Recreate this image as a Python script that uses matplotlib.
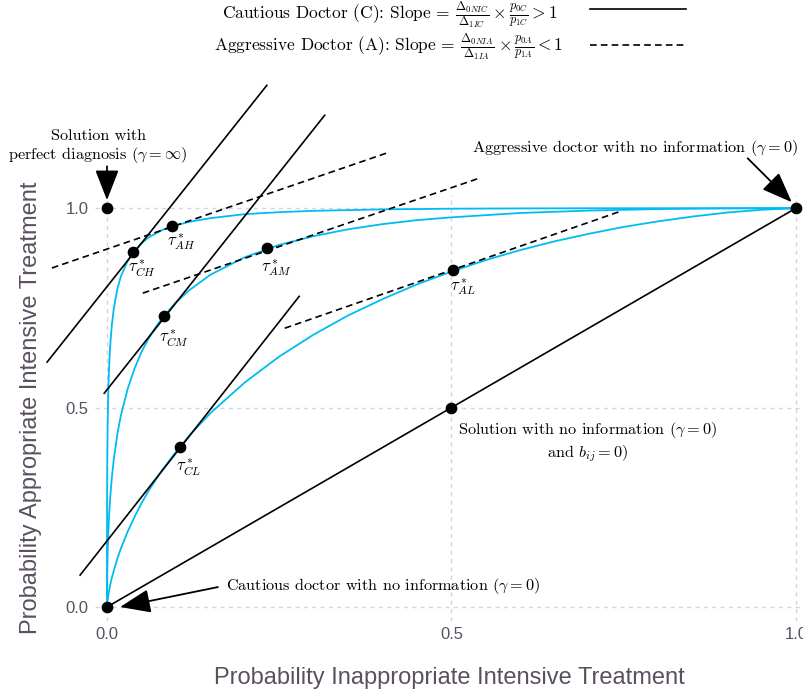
import matplotlib
matplotlib.use("Agg")
import matplotlib.pyplot as plt
from matplotlib.lines import Line2D

plt.rcParams['mathtext.fontset'] = 'cm'
plt.rcParams['axes.unicode_minus'] = False

# ROC curves (false positive rate, true positive rate) for three information levels
fpr_high = [0, 0.000001, 0.000003, 0.00001, 0.00003, 0.0001, 0.0002, 0.0005, 0.001, 0.002,
            0.003, 0.004, 0.005, 0.007, 0.01, 0.015, 0.02, 0.03, 0.04, 0.05, 0.06, 0.07, 0.08,
            0.1, 0.12, 0.15, 0.2, 0.25, 0.3, 0.4, 0.5, 0.6, 0.7, 0.8, 0.9, 1.0]
tpr_high = [0, 0.040, 0.064, 0.103, 0.156, 0.236, 0.295, 0.386, 0.464, 0.549,
            0.600, 0.636, 0.664, 0.706, 0.750, 0.797, 0.828, 0.868, 0.894, 0.912, 0.926, 0.936, 0.945,
            0.957, 0.966, 0.975, 0.985, 0.990, 0.9934, 0.9970, 0.9987, 0.9994, 0.9998, 0.99994, 0.99999, 1.0]

fpr_med = [0, 0.000001, 0.00001, 0.00003, 0.0001, 0.0002, 0.0005, 0.001, 0.002, 0.003, 0.004,
           0.005, 0.007, 0.01, 0.015, 0.02, 0.03, 0.04, 0.05, 0.06, 0.07, 0.08, 0.1, 0.12, 0.15,
           0.2, 0.25, 0.3, 0.35, 0.4, 0.45, 0.5, 0.6, 0.7, 0.8, 0.9, 1.0]
tpr_med = [0, 0.003, 0.012, 0.022, 0.043, 0.062, 0.098, 0.138, 0.190, 0.227, 0.257,
           0.282, 0.324, 0.372, 0.433, 0.479, 0.547, 0.598, 0.639, 0.672, 0.700, 0.724, 0.764, 0.795, 0.833,
           0.877, 0.908, 0.930, 0.947, 0.960, 0.970, 0.977, 0.988, 0.994, 0.9978, 0.9995, 1.0]

fpr_low = [0, 0.0001, 0.0003, 0.001, 0.002, 0.003, 0.005, 0.007, 0.01, 0.015, 0.02, 0.03, 0.04,
           0.05, 0.06, 0.07, 0.08, 0.1, 0.12, 0.15, 0.2, 0.25, 0.3, 0.35, 0.4, 0.45, 0.5, 0.55,
           0.6, 0.65, 0.7, 0.75, 0.8, 0.85, 0.9, 0.95, 1.0]
tpr_low = [0, 0.003, 0.0075, 0.018, 0.030, 0.040, 0.058, 0.073, 0.092, 0.121, 0.146, 0.189, 0.226,
           0.260, 0.290, 0.317, 0.343, 0.389, 0.431, 0.486, 0.563, 0.628, 0.683, 0.731, 0.772, 0.809,
           0.841, 0.870, 0.895, 0.917, 0.936, 0.953, 0.967, 0.979, 0.989, 0.996, 1.0]

# optimal thresholds
tau_names = [r'$\tau^*_{CH}$', r'$\tau^*_{AH}$', r'$\tau^*_{CM}$',
             r'$\tau^*_{AM}$', r'$\tau^*_{CL}$', r'$\tau^*_{AL}$']
tau_x = [0.038, 0.094, 0.083, 0.232, 0.106, 0.502]
tau_y = [0.890, 0.955, 0.730, 0.900, 0.401, 0.845]
tau_lab_x = [0.051, 0.107, 0.097, 0.245, 0.118, 0.517]
tau_lab_y = [0.850, 0.915, 0.674, 0.850, 0.351, 0.800]

# corner / no-information solutions
corner_x = [0.0, 1.0, 0.5, 0.0]
corner_y = [1.0, 1.0, 0.5, 0.0]

# iso-cost lines (x0, y0, x1, y1)
cautious_lines = [(-0.087, 0.614, 0.232, 1.308),
                  (-0.004, 0.536, 0.316, 1.233),
                  (-0.039, 0.080, 0.279, 0.779)]
aggressive_lines = [(-0.080, 0.850, 0.409, 1.140),
                    (0.052, 0.787, 0.540, 1.075),
                    (0.258, 0.699, 0.745, 0.992)]
chance_x = [0.0, 1.0]
chance_y = [0.0, 1.0]

txt_col = '#5a5060'
grid_col = '#d4d2e6'
curve_col = '#00bcf2'
serif = 'cmr10'

fig = plt.figure(figsize=(8.04, 6.96), dpi=100)
ax = fig.add_axes([0.1185, 0.1078, 0.880, 0.612])
ax.set_xlim(-0.017, 1.01)
ax.set_ylim(-0.035, 1.033)
for s in ax.spines.values():
    s.set_visible(False)
ax.set_xticks([0.0, 0.5, 1.0])
ax.set_yticks([0.0, 0.5, 1.0])
ax.set_xticklabels(['0.0', '0.5', '1.0'])
ax.set_yticklabels(['0.0', '0.5', '1.0'])
ax.tick_params(length=0, labelsize=12, labelcolor=txt_col)
ax.tick_params(axis='x', pad=4)
ax.tick_params(axis='y', pad=5)
for lab in ax.get_xticklabels() + ax.get_yticklabels():
    lab.set_fontfamily('Liberation Sans')
ax.grid(True, color=grid_col, linestyle=(0, (3, 3)), linewidth=1.0)
ax.set_axisbelow(True)

ax.set_xlabel('Probability Inappropriate Intensive Treatment', fontsize=17,
              color=txt_col, family='Liberation Sans', labelpad=18)
ax.set_ylabel('Probability Appropriate Intensive Treatment', fontsize=17,
              color=txt_col, family='Liberation Sans', labelpad=17)

for fx, fy in [(fpr_high, tpr_high), (fpr_med, tpr_med), (fpr_low, tpr_low)]:
    ax.plot(fx, fy, color=curve_col, lw=1.3, zorder=2, clip_on=False)

for x0, y0, x1, y1 in cautious_lines:
    ax.plot([x0, x1], [y0, y1], color='black', lw=1.2, zorder=3, clip_on=False)
for x0, y0, x1, y1 in aggressive_lines:
    ax.plot([x0, x1], [y0, y1], color='black', lw=1.2, ls=(0, (4, 2.5)), zorder=3, clip_on=False)
ax.plot(chance_x, chance_y, color='black', lw=1.2, zorder=3, clip_on=False)

ax.scatter(tau_x, tau_y, s=55, color='black', zorder=5, clip_on=False)
ax.scatter(corner_x, corner_y, s=55, color='black', zorder=5, clip_on=False)

for name, lx, ly in zip(tau_names, tau_lab_x, tau_lab_y):
    ax.text(lx, ly, name, fontsize=12, ha='center', va='center', zorder=6)

arrow = dict(arrowstyle='-|>,head_length=0.9,head_width=0.35', color='black',
             lw=1.3, mutation_scale=21, shrinkA=0, shrinkB=0)

note_size = 11.7
ax.text(-0.013, 1.153, 'Solution with\nperfect diagnosis ($\\gamma = \\infty$)',
        ha='center', va='center', fontsize=note_size, family=serif, linespacing=1.2)
ax.annotate('', xy=(0.0, 1.02), xytext=(0.0, 1.105), arrowprops=arrow, annotation_clip=False)

ax.text(0.767, 1.150, 'Aggressive doctor with no information ($\\gamma = 0$)',
        ha='center', va='center', fontsize=note_size, family=serif)
ax.annotate('', xy=(0.994, 1.015), xytext=(0.930, 1.125), arrowprops=arrow, annotation_clip=False)

ax.text(0.697, 0.4135, 'Solution with no information ($\\gamma = 0$)\nand $b_{ij} = 0$)',
        ha='center', va='center', fontsize=note_size, family=serif, linespacing=1.2)

ax.text(0.173, 0.0526, 'Cautious doctor with no information ($\\gamma = 0$)',
        ha='left', va='center', fontsize=note_size, family=serif)
ax.annotate('', xy=(0.019, 0.0), xytext=(0.161, 0.05), arrowprops=arrow, annotation_clip=False)

# legend rows at the top
fig.text(0.485, 1 - 15 / 696,
         r'Cautious Doctor (C): Slope = $\frac{\Delta_{0NIC}}{\Delta_{1IC}} \times \frac{p_{0C}}{p_{1C}} > 1$',
         ha='center', va='center', fontsize=12.5, family=serif)
fig.text(0.483, 1 - 47 / 696,
         r'Aggressive Doctor (A): Slope = $\frac{\Delta_{0NIA}}{\Delta_{1IA}} \times \frac{p_{0A}}{p_{1A}} < 1$',
         ha='center', va='center', fontsize=12.5, family=serif)
fig.add_artist(Line2D([590 / 804, 686 / 804], [1 - 9 / 696, 1 - 9 / 696],
                      color='black', lw=1.2, transform=fig.transFigure))
fig.add_artist(Line2D([590 / 804, 686 / 804], [1 - 45 / 696, 1 - 45 / 696],
                      color='black', lw=1.2, ls=(0, (4, 2.5)), transform=fig.transFigure))

fig.savefig('out.png', dpi=100)
